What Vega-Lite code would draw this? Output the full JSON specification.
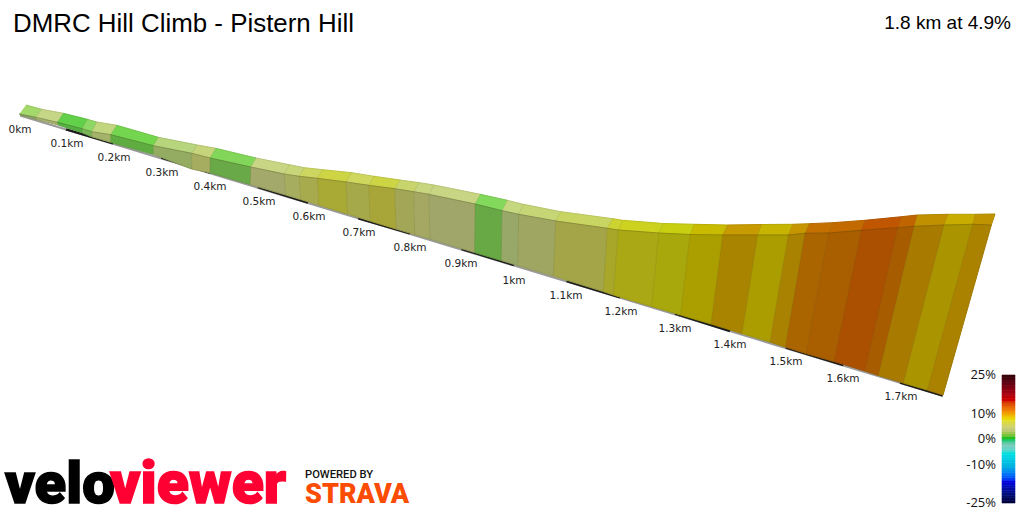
{"$schema":"https://vega.github.io/schema/vega-lite/v6.json","width":1024,"height":512,"padding":0,"autosize":{"type":"none"},"background":"#ffffff","view":{"stroke":null},
"datasets":{
"faces":[
{"face":"t0","n":0,"x":26,"y":105},{"face":"t0","n":1,"x":41.7,"y":109.3},{"face":"t0","n":2,"x":35.7,"y":117.3},{"face":"t0","n":3,"x":19.3,"y":114},
{"face":"w0","n":0,"x":19.3,"y":114},{"face":"w0","n":1,"x":35.7,"y":117.3},{"face":"w0","n":2,"x":36.7,"y":119.5},{"face":"w0","n":3,"x":20,"y":115},
{"face":"t1","n":0,"x":41.7,"y":109.3},{"face":"t1","n":1,"x":63.3,"y":113.3},{"face":"t1","n":2,"x":57.3,"y":122.3},{"face":"t1","n":3,"x":35.7,"y":117.3},
{"face":"w1","n":0,"x":35.7,"y":117.3},{"face":"w1","n":1,"x":57.3,"y":122.3},{"face":"w1","n":2,"x":58.3,"y":125},{"face":"w1","n":3,"x":36.7,"y":119.5},
{"face":"t2","n":0,"x":63.3,"y":113.3},{"face":"t2","n":1,"x":87.3,"y":119.3},{"face":"t2","n":2,"x":82,"y":128.7},{"face":"t2","n":3,"x":57.3,"y":122.3},
{"face":"w2","n":0,"x":57.3,"y":122.3},{"face":"w2","n":1,"x":82,"y":128.7},{"face":"w2","n":2,"x":82.3,"y":132.7},{"face":"w2","n":3,"x":58.3,"y":125},
{"face":"t3","n":0,"x":87.3,"y":119.3},{"face":"t3","n":1,"x":96.7,"y":122},{"face":"t3","n":2,"x":91.7,"y":131.7},{"face":"t3","n":3,"x":82,"y":128.7},
{"face":"w3","n":0,"x":82,"y":128.7},{"face":"w3","n":1,"x":91.7,"y":131.7},{"face":"w3","n":2,"x":91.7,"y":136.7},{"face":"w3","n":3,"x":82.3,"y":132.7},
{"face":"t4","n":0,"x":96.7,"y":122},{"face":"t4","n":1,"x":116.7,"y":125.3},{"face":"t4","n":2,"x":110.7,"y":134.7},{"face":"t4","n":3,"x":91.7,"y":131.7},
{"face":"w4","n":0,"x":91.7,"y":131.7},{"face":"w4","n":1,"x":110.7,"y":134.7},{"face":"w4","n":2,"x":110.7,"y":142.3},{"face":"w4","n":3,"x":91.7,"y":136.7},
{"face":"t5","n":0,"x":116.7,"y":125.3},{"face":"t5","n":1,"x":158.3,"y":137.3},{"face":"t5","n":2,"x":153.3,"y":145.7},{"face":"t5","n":3,"x":110.7,"y":134.7},
{"face":"w5","n":0,"x":110.7,"y":134.7},{"face":"w5","n":1,"x":153.3,"y":145.7},{"face":"w5","n":2,"x":153.3,"y":154.3},{"face":"w5","n":3,"x":110.7,"y":142.3},
{"face":"t6","n":0,"x":158.3,"y":137.3},{"face":"t6","n":1,"x":197.3,"y":145},{"face":"t6","n":2,"x":191.7,"y":153.3},{"face":"t6","n":3,"x":153.3,"y":145.7},
{"face":"w6","n":0,"x":153.3,"y":145.7},{"face":"w6","n":1,"x":191.7,"y":153.3},{"face":"w6","n":2,"x":191.7,"y":169},{"face":"w6","n":3,"x":153.3,"y":154.3},
{"face":"t7","n":0,"x":197.3,"y":145},{"face":"t7","n":1,"x":215.7,"y":148.3},{"face":"t7","n":2,"x":210,"y":158},{"face":"t7","n":3,"x":191.7,"y":153.3},
{"face":"w7","n":0,"x":191.7,"y":153.3},{"face":"w7","n":1,"x":210,"y":158},{"face":"w7","n":2,"x":210,"y":172.7},{"face":"w7","n":3,"x":191.7,"y":169},
{"face":"t8","n":0,"x":215.7,"y":148.3},{"face":"t8","n":1,"x":256,"y":158},{"face":"t8","n":2,"x":250.7,"y":167},{"face":"t8","n":3,"x":210,"y":158},
{"face":"w8","n":0,"x":210,"y":158},{"face":"w8","n":1,"x":250.7,"y":167},{"face":"w8","n":2,"x":250.3,"y":184.5},{"face":"w8","n":3,"x":210,"y":172.7},
{"face":"t9","n":0,"x":256,"y":158},{"face":"t9","n":1,"x":289.3,"y":164.7},{"face":"t9","n":2,"x":284.3,"y":174},{"face":"t9","n":3,"x":250.7,"y":167},
{"face":"w9","n":0,"x":250.7,"y":167},{"face":"w9","n":1,"x":284.3,"y":174},{"face":"w9","n":2,"x":285.7,"y":195},{"face":"w9","n":3,"x":250.3,"y":184.5},
{"face":"t10","n":0,"x":289.3,"y":164.7},{"face":"t10","n":1,"x":304.3,"y":167.7},{"face":"t10","n":2,"x":299,"y":176.3},{"face":"t10","n":3,"x":284.3,"y":174},
{"face":"w10","n":0,"x":284.3,"y":174},{"face":"w10","n":1,"x":299,"y":176.3},{"face":"w10","n":2,"x":300.7,"y":199.5},{"face":"w10","n":3,"x":285.7,"y":195},
{"face":"t11","n":0,"x":304.3,"y":167.7},{"face":"t11","n":1,"x":322.7,"y":169.7},{"face":"t11","n":2,"x":317.3,"y":178.3},{"face":"t11","n":3,"x":299,"y":176.3},
{"face":"w11","n":0,"x":299,"y":176.3},{"face":"w11","n":1,"x":317.3,"y":178.3},{"face":"w11","n":2,"x":318.7,"y":205},{"face":"w11","n":3,"x":300.7,"y":199.5},
{"face":"t12","n":0,"x":322.7,"y":169.7},{"face":"t12","n":1,"x":351.7,"y":172.7},{"face":"t12","n":2,"x":346,"y":182},{"face":"t12","n":3,"x":317.3,"y":178.3},
{"face":"w12","n":0,"x":317.3,"y":178.3},{"face":"w12","n":1,"x":346,"y":182},{"face":"w12","n":2,"x":347.7,"y":214},{"face":"w12","n":3,"x":318.7,"y":205},
{"face":"t13","n":0,"x":351.7,"y":172.7},{"face":"t13","n":1,"x":374,"y":176.3},{"face":"t13","n":2,"x":368.7,"y":185.3},{"face":"t13","n":3,"x":346,"y":182},
{"face":"w13","n":0,"x":346,"y":182},{"face":"w13","n":1,"x":368.7,"y":185.3},{"face":"w13","n":2,"x":370,"y":221},{"face":"w13","n":3,"x":347.7,"y":214},
{"face":"t14","n":0,"x":374,"y":176.3},{"face":"t14","n":1,"x":400,"y":180},{"face":"t14","n":2,"x":394.7,"y":188.7},{"face":"t14","n":3,"x":368.7,"y":185.3},
{"face":"w14","n":0,"x":368.7,"y":185.3},{"face":"w14","n":1,"x":394.7,"y":188.7},{"face":"w14","n":2,"x":396,"y":229},{"face":"w14","n":3,"x":370,"y":221},
{"face":"t15","n":0,"x":400,"y":180},{"face":"t15","n":1,"x":419.3,"y":182.7},{"face":"t15","n":2,"x":413.7,"y":191.7},{"face":"t15","n":3,"x":394.7,"y":188.7},
{"face":"w15","n":0,"x":394.7,"y":188.7},{"face":"w15","n":1,"x":413.7,"y":191.7},{"face":"w15","n":2,"x":414.7,"y":234.5},{"face":"w15","n":3,"x":396,"y":229},
{"face":"t16","n":0,"x":419.3,"y":182.7},{"face":"t16","n":1,"x":434,"y":185},{"face":"t16","n":2,"x":428.7,"y":194.3},{"face":"t16","n":3,"x":413.7,"y":191.7},
{"face":"w16","n":0,"x":413.7,"y":191.7},{"face":"w16","n":1,"x":428.7,"y":194.3},{"face":"w16","n":2,"x":430,"y":239},{"face":"w16","n":3,"x":414.7,"y":234.5},
{"face":"t17","n":0,"x":434,"y":185},{"face":"t17","n":1,"x":480.3,"y":194.3},{"face":"t17","n":2,"x":475,"y":204},{"face":"t17","n":3,"x":428.7,"y":194.3},
{"face":"w17","n":0,"x":428.7,"y":194.3},{"face":"w17","n":1,"x":475,"y":204},{"face":"w17","n":2,"x":474.5,"y":252.5},{"face":"w17","n":3,"x":430,"y":239},
{"face":"t18","n":0,"x":480.3,"y":194.3},{"face":"t18","n":1,"x":507.3,"y":200.3},{"face":"t18","n":2,"x":502,"y":210.7},{"face":"t18","n":3,"x":475,"y":204},
{"face":"w18","n":0,"x":475,"y":204},{"face":"w18","n":1,"x":502,"y":210.7},{"face":"w18","n":2,"x":501.3,"y":260.5},{"face":"w18","n":3,"x":474.5,"y":252.5},
{"face":"t19","n":0,"x":507.3,"y":200.3},{"face":"t19","n":1,"x":523.3,"y":204.3},{"face":"t19","n":2,"x":518.7,"y":214.3},{"face":"t19","n":3,"x":502,"y":210.7},
{"face":"w19","n":0,"x":502,"y":210.7},{"face":"w19","n":1,"x":518.7,"y":214.3},{"face":"w19","n":2,"x":517.7,"y":265.5},{"face":"w19","n":3,"x":501.3,"y":260.5},
{"face":"t20","n":0,"x":523.3,"y":204.3},{"face":"t20","n":1,"x":560.7,"y":211.7},{"face":"t20","n":2,"x":555.7,"y":221},{"face":"t20","n":3,"x":518.7,"y":214.3},
{"face":"w20","n":0,"x":518.7,"y":214.3},{"face":"w20","n":1,"x":555.7,"y":221},{"face":"w20","n":2,"x":553.3,"y":276},{"face":"w20","n":3,"x":517.7,"y":265.5},
{"face":"t21","n":0,"x":560.7,"y":211.7},{"face":"t21","n":1,"x":612.7,"y":218.7},{"face":"t21","n":2,"x":607.3,"y":228.3},{"face":"t21","n":3,"x":555.7,"y":221},
{"face":"w21","n":0,"x":555.7,"y":221},{"face":"w21","n":1,"x":607.3,"y":228.3},{"face":"w21","n":2,"x":603.3,"y":291.5},{"face":"w21","n":3,"x":553.3,"y":276},
{"face":"t22","n":0,"x":612.7,"y":218.7},{"face":"t22","n":1,"x":622.7,"y":220.3},{"face":"t22","n":2,"x":618.3,"y":230},{"face":"t22","n":3,"x":607.3,"y":228.3},
{"face":"w22","n":0,"x":607.3,"y":228.3},{"face":"w22","n":1,"x":618.3,"y":230},{"face":"w22","n":2,"x":613.3,"y":295},{"face":"w22","n":3,"x":603.3,"y":291.5},
{"face":"t23","n":0,"x":622.7,"y":220.3},{"face":"t23","n":1,"x":663.3,"y":223.5},{"face":"t23","n":2,"x":658.7,"y":233},{"face":"t23","n":3,"x":618.3,"y":230},
{"face":"w23","n":0,"x":618.3,"y":230},{"face":"w23","n":1,"x":658.7,"y":233},{"face":"w23","n":2,"x":651.7,"y":306.5},{"face":"w23","n":3,"x":613.3,"y":295},
{"face":"t24","n":0,"x":663.3,"y":223.5},{"face":"t24","n":1,"x":694.3,"y":224.3},{"face":"t24","n":2,"x":690,"y":234.5},{"face":"t24","n":3,"x":658.7,"y":233},
{"face":"w24","n":0,"x":658.7,"y":233},{"face":"w24","n":1,"x":690,"y":234.5},{"face":"w24","n":2,"x":680.7,"y":315},{"face":"w24","n":3,"x":651.7,"y":306.5},
{"face":"t25","n":0,"x":694.3,"y":224.3},{"face":"t25","n":1,"x":727.3,"y":225},{"face":"t25","n":2,"x":722.7,"y":235},{"face":"t25","n":3,"x":690,"y":234.5},
{"face":"w25","n":0,"x":690,"y":234.5},{"face":"w25","n":1,"x":722.7,"y":235},{"face":"w25","n":2,"x":711,"y":324},{"face":"w25","n":3,"x":680.7,"y":315},
{"face":"t26","n":0,"x":727.3,"y":225},{"face":"t26","n":1,"x":761.7,"y":224.5},{"face":"t26","n":2,"x":757.7,"y":235},{"face":"t26","n":3,"x":722.7,"y":235},
{"face":"w26","n":0,"x":722.7,"y":235},{"face":"w26","n":1,"x":757.7,"y":235},{"face":"w26","n":2,"x":742,"y":333.5},{"face":"w26","n":3,"x":711,"y":324},
{"face":"t27","n":0,"x":761.7,"y":224.5},{"face":"t27","n":1,"x":792.7,"y":224.3},{"face":"t27","n":2,"x":788.3,"y":235},{"face":"t27","n":3,"x":757.7,"y":235},
{"face":"w27","n":0,"x":757.7,"y":235},{"face":"w27","n":1,"x":788.3,"y":235},{"face":"w27","n":2,"x":770,"y":342},{"face":"w27","n":3,"x":742,"y":333.5},
{"face":"t28","n":0,"x":792.7,"y":224.3},{"face":"t28","n":1,"x":809.3,"y":223.7},{"face":"t28","n":2,"x":805,"y":233.3},{"face":"t28","n":3,"x":788.3,"y":235},
{"face":"w28","n":0,"x":788.3,"y":235},{"face":"w28","n":1,"x":805,"y":233.3},{"face":"w28","n":2,"x":785.3,"y":347},{"face":"w28","n":3,"x":770,"y":342},
{"face":"t29","n":0,"x":809.3,"y":223.7},{"face":"t29","n":1,"x":832.7,"y":222.7},{"face":"t29","n":2,"x":828.7,"y":233},{"face":"t29","n":3,"x":805,"y":233.3},
{"face":"w29","n":0,"x":805,"y":233.3},{"face":"w29","n":1,"x":828.7,"y":233},{"face":"w29","n":2,"x":806,"y":353.5},{"face":"w29","n":3,"x":785.3,"y":347},
{"face":"t30","n":0,"x":832.7,"y":222.7},{"face":"t30","n":1,"x":865,"y":220.3},{"face":"t30","n":2,"x":861.3,"y":230.3},{"face":"t30","n":3,"x":828.7,"y":233},
{"face":"w30","n":0,"x":828.7,"y":233},{"face":"w30","n":1,"x":861.3,"y":230.3},{"face":"w30","n":2,"x":834,"y":361.5},{"face":"w30","n":3,"x":806,"y":353.5},
{"face":"t31","n":0,"x":865,"y":220.3},{"face":"t31","n":1,"x":901.7,"y":216.7},{"face":"t31","n":2,"x":897.7,"y":227.7},{"face":"t31","n":3,"x":861.3,"y":230.3},
{"face":"w31","n":0,"x":861.3,"y":230.3},{"face":"w31","n":1,"x":897.7,"y":227.7},{"face":"w31","n":2,"x":865,"y":371},{"face":"w31","n":3,"x":834,"y":361.5},
{"face":"t32","n":0,"x":901.7,"y":216.7},{"face":"t32","n":1,"x":917.3,"y":215},{"face":"t32","n":2,"x":914,"y":226.3},{"face":"t32","n":3,"x":897.7,"y":227.7},
{"face":"w32","n":0,"x":897.7,"y":227.7},{"face":"w32","n":1,"x":914,"y":226.3},{"face":"w32","n":2,"x":878.3,"y":375.5},{"face":"w32","n":3,"x":865,"y":371},
{"face":"t33","n":0,"x":917.3,"y":215},{"face":"t33","n":1,"x":948,"y":214.3},{"face":"t33","n":2,"x":944,"y":225},{"face":"t33","n":3,"x":914,"y":226.3},
{"face":"w33","n":0,"x":914,"y":226.3},{"face":"w33","n":1,"x":944,"y":225},{"face":"w33","n":2,"x":903.3,"y":383},{"face":"w33","n":3,"x":878.3,"y":375.5},
{"face":"t34","n":0,"x":948,"y":214.3},{"face":"t34","n":1,"x":975.3,"y":214.3},{"face":"t34","n":2,"x":972.7,"y":224.3},{"face":"t34","n":3,"x":944,"y":225},
{"face":"w34","n":0,"x":944,"y":225},{"face":"w34","n":1,"x":972.7,"y":224.3},{"face":"w34","n":2,"x":927.3,"y":390},{"face":"w34","n":3,"x":903.3,"y":383},
{"face":"t35","n":0,"x":975.3,"y":214.3},{"face":"t35","n":1,"x":995,"y":214},{"face":"t35","n":2,"x":991.3,"y":225},{"face":"t35","n":3,"x":972.7,"y":224.3},
{"face":"w35","n":0,"x":972.7,"y":224.3},{"face":"w35","n":1,"x":991.3,"y":225},{"face":"w35","n":2,"x":943,"y":395},{"face":"w35","n":3,"x":927.3,"y":390}
],
"ground":[{"km":0,"x":20,"y":115.5},{"km":1.76,"x":943,"y":395.7}],
"bands":[
{"band":"a","x":66,"y":129.3},{"band":"a","x":113,"y":143.3},
{"band":"b","x":161.3,"y":157.7},{"band":"b","x":210,"y":172.7},
{"band":"c","x":258,"y":187},{"band":"c","x":308,"y":202.7},
{"band":"d","x":358.3,"y":218.3},{"band":"d","x":410,"y":233.3},
{"band":"e","x":461.7,"y":249},{"band":"e","x":514,"y":265},
{"band":"f","x":566.7,"y":281},{"band":"f","x":620,"y":297.3},
{"band":"g","x":675,"y":313.7},{"band":"g","x":730,"y":331},
{"band":"h","x":786,"y":347.7},{"band":"h","x":843.3,"y":365},
{"band":"i","x":900,"y":382.7},{"band":"i","x":942.7,"y":395.7}
],
"ticks":[
{"label":"0km","x":20,"y":130},{"label":"0.1km","x":67,"y":144},{"label":"0.2km","x":114,"y":158},{"label":"0.3km","x":162,"y":173},{"label":"0.4km","x":210,"y":187},{"label":"0.5km","x":259,"y":202},{"label":"0.6km","x":309,"y":217},{"label":"0.7km","x":359,"y":233},{"label":"0.8km","x":410,"y":248},{"label":"0.9km","x":461,"y":264},{"label":"1km","x":514,"y":281},{"label":"1.1km","x":566,"y":296},{"label":"1.2km","x":621,"y":312},{"label":"1.3km","x":675,"y":329},{"label":"1.4km","x":730,"y":345},{"label":"1.5km","x":786,"y":362},{"label":"1.6km","x":843,"y":379},{"label":"1.7km","x":901,"y":397}
],
"scale":[
{"pct":-25,"pct2":-24},{"pct":-24,"pct2":-23},{"pct":-23,"pct2":-22},{"pct":-22,"pct2":-21},{"pct":-21,"pct2":-20},{"pct":-20,"pct2":-19},{"pct":-19,"pct2":-18},{"pct":-18,"pct2":-17},{"pct":-17,"pct2":-16},{"pct":-16,"pct2":-15},{"pct":-15,"pct2":-14},{"pct":-14,"pct2":-13},{"pct":-13,"pct2":-12},{"pct":-12,"pct2":-11},{"pct":-11,"pct2":-10},{"pct":-10,"pct2":-9},{"pct":-9,"pct2":-8},{"pct":-8,"pct2":-7},{"pct":-7,"pct2":-6},{"pct":-6,"pct2":-5},{"pct":-5,"pct2":-4},{"pct":-4,"pct2":-3},{"pct":-3,"pct2":-2},{"pct":-2,"pct2":-1},{"pct":-1,"pct2":0},{"pct":0,"pct2":1},{"pct":1,"pct2":2},{"pct":2,"pct2":3},{"pct":3,"pct2":4},{"pct":4,"pct2":5},{"pct":5,"pct2":6},{"pct":6,"pct2":7},{"pct":7,"pct2":8},{"pct":8,"pct2":9},{"pct":9,"pct2":10},{"pct":10,"pct2":11},{"pct":11,"pct2":12},{"pct":12,"pct2":13},{"pct":13,"pct2":14},{"pct":14,"pct2":15},{"pct":15,"pct2":16},{"pct":16,"pct2":17},{"pct":17,"pct2":18},{"pct":18,"pct2":19},{"pct":19,"pct2":20},{"pct":20,"pct2":21},{"pct":21,"pct2":22},{"pct":22,"pct2":23},{"pct":23,"pct2":24},{"pct":24,"pct2":25}
],
"scaleLabels":[{"pct":25,"label":"25%"},{"pct":10,"label":"10%"},{"pct":0,"label":"0%"},{"pct":-10,"label":"-10%"},{"pct":-25,"label":"-25%"}]
},
"layer":[
{"layer":[
{"data":{"name":"ground"},"mark":{"type":"line","stroke":"#9a9a9a","strokeWidth":2.2},"encoding":{"x":{"field":"x","type":"quantitative","scale":{"domain":[0,1024],"nice":false,"zero":false},"axis":null},"y":{"field":"y","type":"quantitative","scale":{"domain":[512,0],"nice":false,"zero":false},"axis":null}}},
{"data":{"name":"bands"},"mark":{"type":"line","stroke":"#1c1c1c","strokeWidth":2.4},"encoding":{"x":{"field":"x","type":"quantitative"},"y":{"field":"y","type":"quantitative"},"detail":{"field":"band"}}},
{"data":{"name":"faces"},"mark":{"type":"line","strokeWidth":1,"strokeJoin":"round"},"encoding":{"x":{"field":"x","type":"quantitative"},"y":{"field":"y","type":"quantitative"},"order":{"field":"n"},"detail":{"field":"face"},
"fill":{"field":"face","type":"nominal","legend":null,"scale":{
"domain":["t0","t1","t2","t3","t4","t5","t6","t7","t8","t9","t10","t11","t12","t13","t14","t15","t16","t17","t18","t19","t20","t21","t22","t23","t24","t25","t26","t27","t28","t29","t30","t31","t32","t33","t34","t35","w0","w1","w2","w3","w4","w5","w6","w7","w8","w9","w10","w11","w12","w13","w14","w15","w16","w17","w18","w19","w20","w21","w22","w23","w24","w25","w26","w27","w28","w29","w30","w31","w32","w33","w34","w35"],
"range":["#a3d96b","#c5d687","#62d04a","#8dd765","#c2d57f","#74d54e","#b6d57c","#c6d47c","#82d75a","#c8d684","#c8d67a","#ccd660","#cdd544","#cfd75f","#cdd545","#c8d56d","#c8d67f","#c8d683","#82d95c","#c6d87f","#c6d677","#c9d562","#cdd330","#ccd21e","#c8cf10","#c8bb00","#c79b00","#c6b400","#c69500","#c47000","#c26a00","#c05600","#c06400","#c09000","#c8ac00","#bf9400",
"#8ea764","#a5b36f","#55b042","#78b555","#a3b36a","#5fad41","#94ab62","#a6ad60","#6aa948","#a2a96a","#a7ad5f","#a8ab4d","#a9a936","#a6a94a","#a8a638","#a3a656","#a4a862","#a0a669","#68a845","#98a868","#9fa661","#a3a548","#a9a72a","#aba815","#a8a70c","#ab9f00","#a98400","#ab9c00","#a88200","#aa6400","#a95e00","#ab4f00","#a85c00","#a87a00","#aa9400","#ab8100"]
}},
"stroke":{"field":"face","type":"nominal","legend":null,"scale":{
"domain":["t0","t1","t2","t3","t4","t5","t6","t7","t8","t9","t10","t11","t12","t13","t14","t15","t16","t17","t18","t19","t20","t21","t22","t23","t24","t25","t26","t27","t28","t29","t30","t31","t32","t33","t34","t35","w0","w1","w2","w3","w4","w5","w6","w7","w8","w9","w10","w11","w12","w13","w14","w15","w16","w17","w18","w19","w20","w21","w22","w23","w24","w25","w26","w27","w28","w29","w30","w31","w32","w33","w34","w35"],
"range":["#a3d96b","#c5d687","#62d04a","#8dd765","#c2d57f","#74d54e","#b6d57c","#c6d47c","#82d75a","#c8d684","#c8d67a","#ccd660","#cdd544","#cfd75f","#cdd545","#c8d56d","#c8d67f","#c8d683","#82d95c","#c6d87f","#c6d677","#c9d562","#cdd330","#ccd21e","#c8cf10","#c8bb00","#c79b00","#c6b400","#c69500","#c47000","#c26a00","#c05600","#c06400","#c09000","#c8ac00","#bf9400",
"#8ea764","#a5b36f","#55b042","#78b555","#a3b36a","#5fad41","#94ab62","#a6ad60","#6aa948","#a2a96a","#a7ad5f","#a8ab4d","#a9a936","#a6a94a","#a8a638","#a3a656","#a4a862","#a0a669","#68a845","#98a868","#9fa661","#a3a548","#a9a72a","#aba815","#a8a70c","#ab9f00","#a98400","#ab9c00","#a88200","#aa6400","#a95e00","#ab4f00","#a85c00","#a87a00","#aa9400","#ab8100"]
}}}},
{"data":{"name":"faces"},"mark":{"type":"line","stroke":"#3c3c10","strokeOpacity":0.15,"strokeWidth":0.8,"strokeJoin":"round"},"encoding":{"x":{"field":"x","type":"quantitative"},"y":{"field":"y","type":"quantitative"},"order":{"field":"n"},"detail":{"field":"face"}}},
{"data":{"name":"ticks"},"mark":{"type":"text","font":"DejaVu Sans","fontSize":10.5,"fill":"#222222","align":"center","baseline":"middle"},"encoding":{"x":{"field":"x","type":"quantitative"},"y":{"field":"y","type":"quantitative"},"text":{"field":"label"}}},
{"data":{"values":[{"label":"DMRC Hill Climb - Pistern Hill"}]},"mark":{"type":"text","font":"Liberation Sans","fontSize":25.9,"fill":"#000000","align":"left","baseline":"alphabetic"},"encoding":{"x":{"datum":13},"y":{"datum":32},"text":{"field":"label"}}},
{"data":{"values":[{"label":"1.8 km at 4.9%"}]},"mark":{"type":"text","font":"Liberation Sans","fontSize":19,"fill":"#000000","align":"right","baseline":"alphabetic"},"encoding":{"x":{"datum":1011},"y":{"datum":29},"text":{"field":"label"}}},
{"data":{"values":[{"label":"velo"}]},"mark":{"type":"text","font":"Roboto","fontWeight":900,"fontSize":58,"fill":"#000000","stroke":"#000000","strokeWidth":1.5,"align":"left","baseline":"alphabetic"},"encoding":{"x":{"datum":5},"y":{"datum":503},"text":{"field":"label"}}},
{"data":{"values":[{"label":"viewer"}]},"mark":{"type":"text","font":"Roboto","fontWeight":900,"fontSize":59,"fill":"#ff0033","stroke":"#ff0033","strokeWidth":1.5,"align":"left","baseline":"alphabetic"},"encoding":{"x":{"datum":110},"y":{"datum":503},"text":{"field":"label"}}},
{"data":{"values":[{"label":"POWERED BY"}]},"mark":{"type":"text","font":"Roboto","fontWeight":500,"fontSize":11.2,"fill":"#111111","align":"left","baseline":"alphabetic"},"encoding":{"x":{"datum":305},"y":{"datum":478},"text":{"field":"label"}}},
{"data":{"values":[{"label":"STRAVA"}]},"mark":{"type":"text","font":"Roboto","fontWeight":900,"fontSize":27,"fill":"#fc4c02","align":"left","baseline":"alphabetic"},"encoding":{"x":{"datum":305},"y":{"datum":503},"text":{"field":"label"}}}
]},
{"layer":[
{"data":{"name":"scale"},"mark":{"type":"rect","strokeWidth":0.6},"encoding":{"x":{"datum":1002},"x2":{"datum":1015},"y":{"field":"pct","type":"quantitative","axis":null,"scale":{"domain":[-25,-10,0,10,25],"range":[503,465,439,414,375]}},"y2":{"field":"pct2"},"fill":{"field":"pct","type":"quantitative","legend":null,"scale":{"domain":[-25,-17,-11,-6,-2.5,0,3.5,7.5,11,15,25],"range":["#000040","#0000e0","#00b0e0","#00e0e0","#80c8b8","#20c020","#c8cc80","#e8e000","#f08000","#d00000","#2a0000"]}},"stroke":{"field":"pct","type":"quantitative","legend":null,"scale":{"domain":[-25,-17,-11,-6,-2.5,0,3.5,7.5,11,15,25],"range":["#000040","#0000e0","#00b0e0","#00e0e0","#80c8b8","#20c020","#c8cc80","#e8e000","#f08000","#d00000","#2a0000"]}}}},
{"data":{"name":"scaleLabels"},"mark":{"type":"text","font":"Open Sans","fontSize":13,"fill":"#111111","align":"right","baseline":"middle"},"encoding":{"x":{"datum":996},"y":{"field":"pct","type":"quantitative"},"text":{"field":"label"}}}
]}
],
"resolve":{"scale":{"y":"independent"}}
}
